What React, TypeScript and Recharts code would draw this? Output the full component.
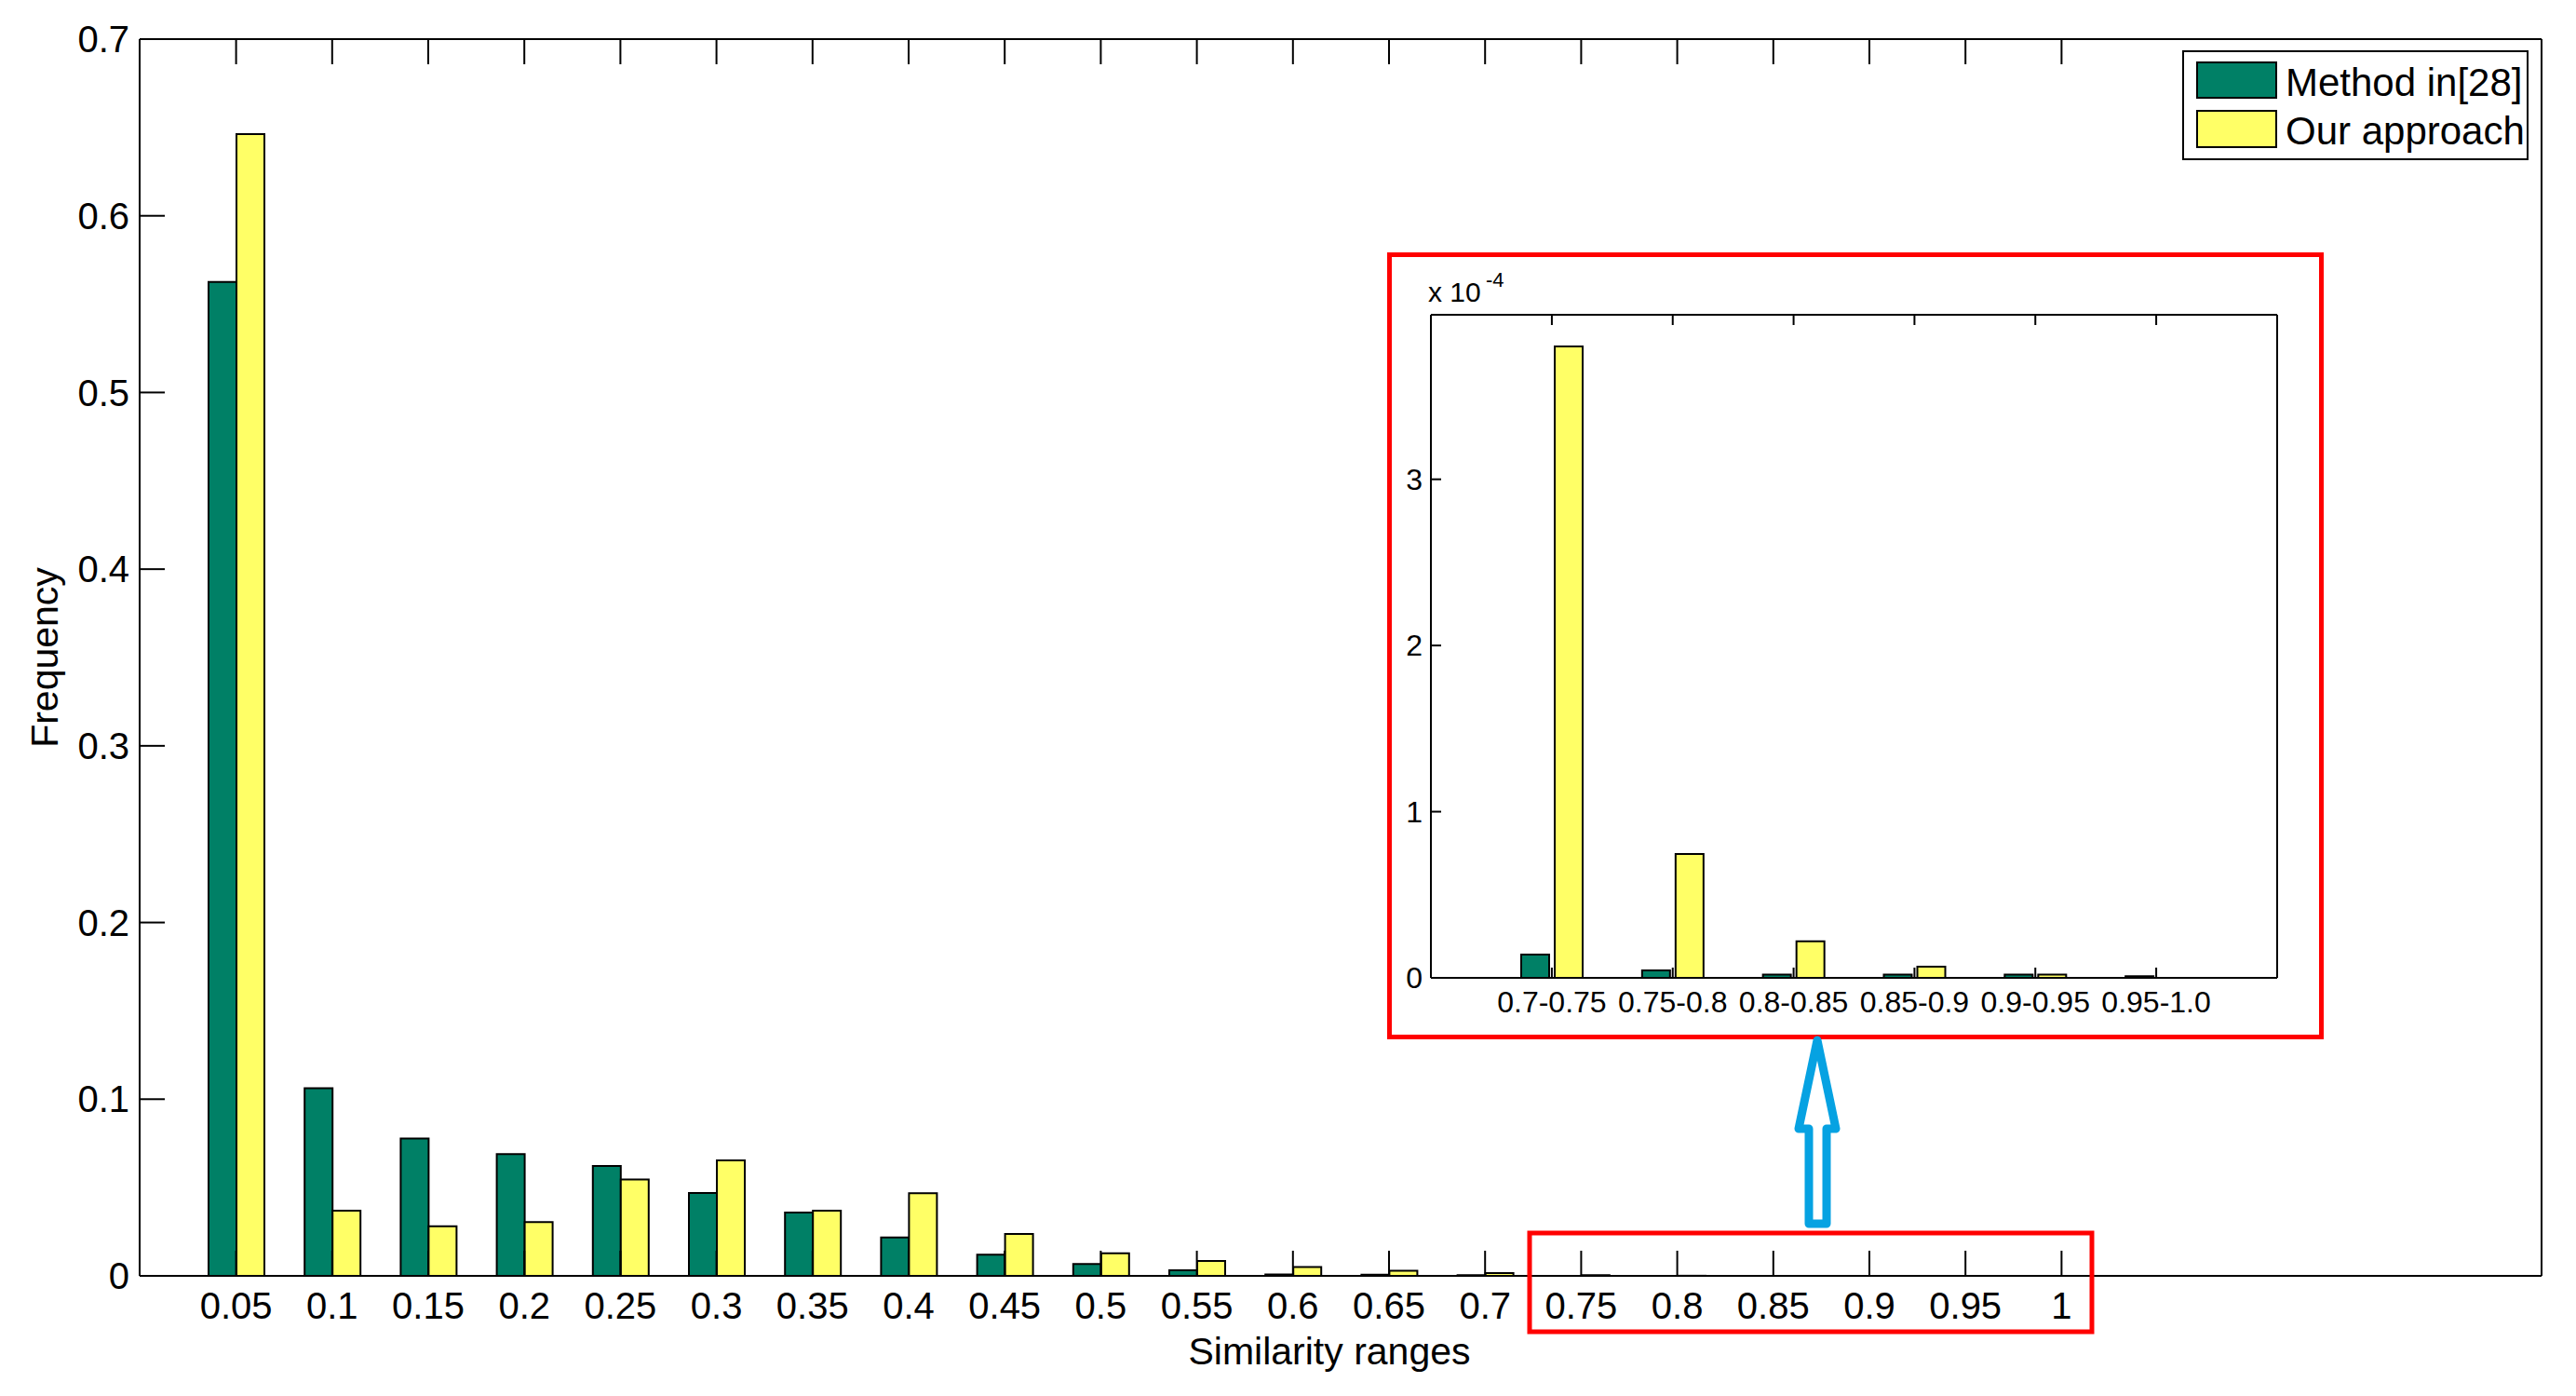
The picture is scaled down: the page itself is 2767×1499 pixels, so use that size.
import React from "react";
import { Bar, BarChart, Label, XAxis, YAxis } from "recharts";

const FONT = '"Liberation Sans", Arial, Helvetica, sans-serif';
const GREEN = "#008066";
const YELLOW = "#ffff66";

// main histogram, bins 0.05 .. 0.7 (tail 0.75 .. 1 comes from the zoomed inset)
const ranges = [
  "0.05", "0.1", "0.15", "0.2", "0.25", "0.3", "0.35", "0.4", "0.45", "0.5",
  "0.55", "0.6", "0.65", "0.7", "0.75", "0.8", "0.85", "0.9", "0.95", "1",
];
const methodHead = [
  0.5625, 0.1062, 0.0777, 0.0689, 0.0622, 0.0469, 0.0358, 0.0218, 0.012, 0.0067,
  0.0032, 0.0008, 0.0006, 0.0004,
];
const oursHead = [
  0.6463, 0.0369, 0.0281, 0.0304, 0.0545, 0.0654, 0.0369, 0.0468, 0.0237, 0.0128,
  0.0084, 0.005, 0.0029, 0.0016,
];
const yTicks = [0, 0.1, 0.2, 0.3, 0.4, 0.5, 0.6, 0.7];

// inset, values in units of 1e-4
const insetRanges = ["0.7-0.75", "0.75-0.8", "0.8-0.85", "0.85-0.9", "0.9-0.95", "0.95-1.0"];
const insetMethod = [0.14, 0.045, 0.02, 0.02, 0.02, 0.01];
const insetOurs = [3.8, 0.745, 0.22, 0.067, 0.02, 0];
const insetYTicks = [0, 1, 2, 3];

const mainData = ranges.map((range, i) => ({
  range,
  method: i < methodHead.length ? methodHead[i] : insetMethod[i - methodHead.length] * 1e-4,
  ours: i < oursHead.length ? oursHead[i] : insetOurs[i - oursHead.length] * 1e-4,
}));

const insetData = insetRanges.map((range, i) => ({
  range,
  method: insetMethod[i],
  ours: insetOurs[i],
}));

const tickStyle = { fill: "#000", fontSize: 40, fontFamily: FONT };
const insetTickStyle = { fill: "#000", fontSize: 32, fontFamily: FONT };
const axisLine = { stroke: "#000", strokeWidth: 2 };
const noLabel = () => "";

const MainChart = () => (
  <BarChart
    width={2767}
    height={1499}
    data={mainData}
    margin={{ top: 41, right: 36, bottom: 0, left: 0 }}
    barGap={0}
  >
    <XAxis
      dataKey="range"
      height={129}
      padding={{ left: 52, right: 464 }}
      tick={tickStyle}
      tickSize={-27}
      tickMargin={45}
      axisLine={axisLine}
      tickLine={axisLine}
      interval={0}
    >
      <Label
        content={({ viewBox }: any) => (
          <text
            x={viewBox.x + viewBox.width / 2 - 12}
            y={viewBox.y + 95}
            textAnchor="middle"
            fontSize={41}
            fontFamily={FONT}
            fill="#000"
          >
            Similarity ranges
          </text>
        )}
      />
    </XAxis>
    <XAxis
      xAxisId="top"
      orientation="top"
      dataKey="range"
      height={1}
      padding={{ left: 52, right: 464 }}
      tickFormatter={noLabel}
      tickSize={-27}
      axisLine={axisLine}
      tickLine={axisLine}
      interval={0}
    />
    <YAxis
      width={150}
      domain={[0, 0.7]}
      ticks={yTicks}
      tick={tickStyle}
      tickSize={-27}
      tickMargin={38}
      axisLine={axisLine}
      tickLine={axisLine}
      interval={0}
    >
      <Label
        content={({ viewBox }: any) => {
          const x = viewBox.x + 48;
          const y = viewBox.y + viewBox.height / 2;
          return (
            <text
              x={x}
              y={y}
              transform={`rotate(-90, ${x}, ${y})`}
              textAnchor="middle"
              dominantBaseline="central"
              fontSize={41}
              fontFamily={FONT}
              fill="#000"
            >
              Frequency
            </text>
          );
        }}
      />
    </YAxis>
    <YAxis
      yAxisId="right"
      orientation="right"
      width={1}
      domain={[0, 0.7]}
      ticks={yTicks}
      tickFormatter={noLabel}
      tickSize={-27}
      axisLine={axisLine}
      tickLine={axisLine}
      interval={0}
    />
    <Bar
      dataKey="method"
      name="Method in[28]"
      fill={GREEN}
      stroke="#000"
      strokeWidth={2}
      barSize={30}
      isAnimationActive={false}
    />
    <Bar
      dataKey="ours"
      name="Our approach"
      fill={YELLOW}
      stroke="#000"
      strokeWidth={2}
      barSize={30}
      isAnimationActive={false}
    />
  </BarChart>
);

const InsetChart = () => (
  <BarChart
    width={996}
    height={835}
    data={insetData}
    margin={{ top: 61, right: 44, bottom: 0, left: 0 }}
    barGap={6}
  >
    <XAxis
      dataKey="range"
      height={61}
      padding={{ left: 65, right: 65 }}
      tick={insetTickStyle}
      tickSize={-11}
      tickMargin={25}
      axisLine={axisLine}
      tickLine={axisLine}
      interval={0}
    />
    <XAxis
      xAxisId="top"
      orientation="top"
      dataKey="range"
      height={1}
      padding={{ left: 65, right: 65 }}
      tickFormatter={noLabel}
      tickSize={-11}
      axisLine={axisLine}
      tickLine={axisLine}
      interval={0}
    />
    <YAxis
      width={42}
      domain={[0, 3.99]}
      ticks={insetYTicks}
      tick={insetTickStyle}
      tickSize={-11}
      tickMargin={20}
      axisLine={axisLine}
      tickLine={axisLine}
      interval={0}
    />
    <YAxis
      yAxisId="right"
      orientation="right"
      width={1}
      domain={[0, 3.99]}
      ticks={insetYTicks}
      tickFormatter={noLabel}
      tickSize={-11}
      axisLine={axisLine}
      tickLine={axisLine}
      interval={0}
    />
    <Bar dataKey="method" fill={GREEN} stroke="#000" strokeWidth={2} barSize={30} isAnimationActive={false} />
    <Bar dataKey="ours" fill={YELLOW} stroke="#000" strokeWidth={2} barSize={30} isAnimationActive={false} />
  </BarChart>
);

const Legend = () => (
  <svg
    width={372}
    height={118}
    style={{ position: "absolute", left: 2344, top: 54 }}
  >
    <rect x={1} y={1} width={370} height={116} fill="#fff" stroke="#000" strokeWidth={2} />
    <rect x={16} y={13} width={85} height={38} fill={GREEN} stroke="#000" strokeWidth={2} />
    <rect x={16} y={65} width={85} height={39} fill={YELLOW} stroke="#000" strokeWidth={2} />
    <text x={111} y={49} fontSize={42} fontFamily={FONT} fill="#000">
      Method in[28]
    </text>
    <text x={111} y={101} fontSize={42} fontFamily={FONT} fill="#000">
      Our approach
    </text>
  </svg>
);

const App = () => {
  return (
    <div
      style={{
        position: "absolute",
        left: 0,
        top: 0,
        width: 2767,
        height: 1499,
        background: "#fff",
        overflow: "hidden",
      }}
    >
      <MainChart />
      <div
        style={{
          position: "absolute",
          left: 1490,
          top: 271,
          width: 1006,
          height: 845,
          border: "5px solid #ff0000",
          boxSizing: "border-box",
          background: "#fff",
        }}
      >
        <InsetChart />
      </div>
      <svg
        width={2767}
        height={1499}
        style={{ position: "absolute", left: 0, top: 0, pointerEvents: "none" }}
      >
        <text x={1534} y={324} fontSize={30} fontFamily={FONT} fill="#000">
          x 10
        </text>
        <text x={1596} y={308} fontSize={22} fontFamily={FONT} fill="#000">
          -4
        </text>
        <rect x={1643} y={1324} width={604} height={106} fill="none" stroke="#ff0000" strokeWidth={5} />
        <path
          d="M1952,1117 L1972,1212 L1962,1212 L1962,1314 L1943,1314 L1943,1212 L1932,1212 Z"
          fill="#fff"
          stroke="#06a2e2"
          strokeWidth={9}
          strokeLinejoin="round"
        />
      </svg>
      <Legend />
    </div>
  );
};

export default App;
